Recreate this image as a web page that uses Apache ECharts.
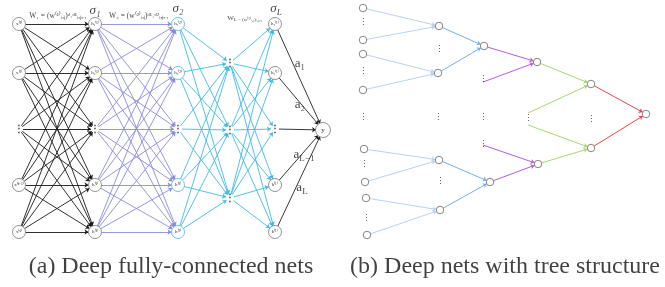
<!DOCTYPE html>
<html>
<head>
<meta charset="utf-8">
<script src="https://cdn.jsdelivr.net/npm/echarts@6/dist/echarts.min.js"></script>
<style>
  html, body { margin: 0; padding: 0; background: #fff; }
  #main { width: 665px; height: 287px; }
</style>
</head>
<body>
<div id="main"></div>
<script>
// ---- panel (a): fully-connected net ----
const aLayerX = [19, 95, 178, 275];          // input, h(1), h(2), h(L)
const aLayerY = [24, 73, 129, 185, 232];     // row 2 is the "⋮" row
const aMidX = 230;
const aMidY = [63, 130, 198];
const aOut = [323, 130];
const inputLabels = ['x⁽¹⁾', 'x⁽²⁾', '', 'x⁽ᵈ⁻¹⁾', 'x⁽ᵈ⁾'];
const h1Labels = ['h₁⁽¹⁾', 'h₂⁽¹⁾', '', 'h⁽¹⁾', 'h⁽¹⁾'];
const h2Labels = ['h₁⁽²⁾', 'h₂⁽²⁾', '', 'h⁽²⁾', 'h⁽²⁾'];
const hLLabels = ['h₁⁽ᴸ⁾', 'h₂⁽ᴸ⁾', '', 'h⁽ᴸ⁾', 'h⁽ᴸ⁾'];
const layerEdgeColors = ['#1a1a1a', '#8a8ade', '#3cbce4', '#3cbce4', '#222'];

// ---- panel (b): tree ----
const treeNodes = [
  [363, 8], [363, 40], [363, 54], [363, 90], [364, 149], [365, 182], [366, 198], [367, 235], // leaves 0-7
  [439, 26], [438, 73], [439, 160], [440, 210],   // level 1: 8-11
  [484, 46], [490, 182],                          // level 2: 12-13
  [537, 62], [538, 164],                          // level 3: 14-15
  [591, 84], [591, 148],                          // level 4: 16-17
  [646, 114]                                      // root: 18
];
const treeDotStarts = [[483, 82], [483, 145], [528, 113], [528, 125]];  // edges coming out of ⋮
const treeDots = [
  [363, 23], [363, 72], [363, 118], [364, 165], [366, 219],
  [439, 50], [438, 118], [440, 182],
  [483, 80], [483, 118], [483, 145],
  [528, 119], [591, 120]
];
const treeEdgeGroups = [
  { color: '#b9d3ef', edges: [[0, 8], [1, 8], [2, 9], [3, 9], [4, 10], [5, 10], [6, 11], [7, 11]] },
  { color: '#78aee6', edges: [[8, 12], [9, 12], [10, 13], [11, 13]] },
  { color: '#b25de2', edges: [[12, 14], ['d0', 14], ['d1', 15], [13, 15]] },
  { color: '#a9d872', edges: [[14, 16], ['d2', 16], ['d3', 17], [15, 17]] },
  { color: '#e24a4a', edges: [[16, 18], [17, 18]] }
];

// ---- text ----
const notes = [
  { text: 'σ₁', x: 95, y: 11, size: 13, italic: true },
  { text: 'σ₂', x: 178, y: 9, size: 13, italic: true },
  { text: 'σ_L', x: 276, y: 9, size: 13, italic: true },
  { text: 'W₁ = (w⁽¹⁾ᵢ,ⱼ)ᵈ˒ᵈ¹ᵢ,ⱼ₌₁', x: 58, y: 16, size: 7.5 },
  { text: 'W₂ = (w⁽²⁾ᵢ,ⱼ)ᵈ¹˒ᵈ²ᵢ,ⱼ₌₁', x: 139, y: 16, size: 7.5 },
  { text: 'W_L = (w⁽ᴸ⁾ᵢ,ⱼ)ᵢ,ⱼ₌₁', x: 245, y: 18, size: 7 },
  { text: 'a₁', x: 300, y: 64, size: 13 },
  { text: 'a₂', x: 300, y: 105, size: 13 },
  { text: 'a_L−1', x: 304, y: 155, size: 13 },
  { text: 'a_L', x: 302, y: 188, size: 13 }
];
const captions = [
  { text: '(a) Deep fully-connected nets', x: 171, y: 267 },
  { text: '(b) Deep nets with tree structure', x: 505, y: 267 }
];

function trim(p, q, r0, r1) {
  const dx = q[0] - p[0], dy = q[1] - p[1], len = Math.hypot(dx, dy);
  return [[p[0] + dx * r0 / len, p[1] + dy * r0 / len], [q[0] - dx * r1 / len, q[1] - dy * r1 / len]];
}

const R = 6.5;     // node radius in panel (a)
const rb = 3.6;    // node radius in panel (b)

// build the columns of panel (a)
const cols = [
  aLayerY.map(y => ({ p: [aLayerX[0], y], dot: false })),
  aLayerY.map(y => ({ p: [aLayerX[1], y], dot: false })),
  aLayerY.map(y => ({ p: [aLayerX[2], y], dot: false })),
  aMidY.map(y => ({ p: [aMidX, y], dot: true })),
  aLayerY.map(y => ({ p: [aLayerX[3], y], dot: false })),
  [{ p: aOut, dot: false }]
];
cols.forEach(c => c.forEach((n, i) => { if (c.length === 5 && i === 2) n.dot = true; }));

const lineSeries = [];
for (let k = 0; k < cols.length - 1; k++) {
  const data = [];
  cols[k].forEach(a => cols[k + 1].forEach(b => {
    const r0 = a.dot ? 4 : R;
    const r1 = b.dot ? 4 : (k + 1 === cols.length - 1 ? 7 : R);
    data.push({ coords: trim(a.p, b.p, r0, r1) });
  }));
  lineSeries.push({
    type: 'lines', coordinateSystem: 'cartesian2d', z: 1,
    symbol: ['none', 'arrow'], symbolSize: 4,
    lineStyle: { color: layerEdgeColors[k], width: 0.9, opacity: 1 },
    data: data, silent: true
  });
}

treeEdgeGroups.forEach(g => {
  const data = g.edges.map(([s, t]) => {
    const isDot = typeof s === 'string';
    const p = isDot ? treeDotStarts[+s.slice(1)] : treeNodes[s];
    return { coords: trim(p, treeNodes[t], isDot ? 0 : rb, rb) };
  });
  lineSeries.push({
    type: 'lines', coordinateSystem: 'cartesian2d', z: 1,
    symbol: ['none', 'arrow'], symbolSize: 4,
    lineStyle: { color: g.color, width: 1, opacity: 1 },
    data: data, silent: true
  });
});

const labelSets = [inputLabels, h1Labels, h2Labels, hLLabels];
const aNodes = [];
const aDots = [];
aLayerX.forEach((x, li) => {
  aLayerY.forEach((y, i) => {
    if (i === 2) { aDots.push([x, y]); return; }
    aNodes.push({ value: [x, y], name: labelSets[li][i], itemStyle: { borderColor: li === 2 ? '#3cbce4' : '#777' } });
  });
});
aMidY.forEach(y => aDots.push([aMidX, y]));
aNodes.push({ value: aOut, name: 'y', symbolSize: 15, label: { fontSize: 7 } });

function textPoint(n, size, family, style) {
  let t = n.text;
  if (t.indexOf('_') >= 0) {
    const parts = t.split('_');
    t = '{m|' + parts[0] + '}{s|' + parts[1] + '}';
  }
  return {
    value: [n.x, n.y],
    label: {
      show: true, position: 'inside', formatter: t,
      fontSize: size, fontFamily: family, fontStyle: style || 'normal', color: '#111',
      rich: {
        m: { fontSize: size, fontFamily: family, fontStyle: style || 'normal', color: '#111' },
        s: { fontSize: Math.round(size * 0.7), fontFamily: family, color: '#111', padding: [Math.round(size * 0.6), 0, 0, 0] }
      }
    }
  };
}

const option = {
  animation: false,
  backgroundColor: '#fff',
  grid: { left: 0, right: 0, top: 0, bottom: 0 },
  xAxis: { type: 'value', min: 0, max: 665, show: false },
  yAxis: { type: 'value', min: 0, max: 287, inverse: true, show: false },
  series: lineSeries.concat([
    {
      type: 'scatter', z: 3, symbol: 'circle', symbolSize: 13, silent: true,
      itemStyle: { color: '#fff', borderColor: '#777', borderWidth: 0.8, opacity: 1 },
      label: { show: true, position: 'inside', formatter: p => p.name, fontSize: 5, color: '#333', fontFamily: 'Liberation Serif' },
      data: aNodes
    },
    {
      type: 'scatter', z: 3, symbol: 'circle', symbolSize: 7.5, silent: true,
      itemStyle: { color: '#fff', borderColor: '#777', borderWidth: 0.9, opacity: 1 },
      data: treeNodes
    },
    {
      type: 'scatter', z: 4, symbolSize: 1, silent: true,
      itemStyle: { color: 'transparent' },
      label: { show: true, position: 'inside', formatter: '⋮', fontSize: 10, fontWeight: 'bold', color: '#111' },
      data: aDots
    },
    {
      type: 'scatter', z: 4, symbolSize: 1, silent: true,
      itemStyle: { color: 'transparent' },
      label: { show: true, position: 'inside', formatter: '⋮', fontSize: 9, color: '#333' },
      data: treeDots
    },
    {
      type: 'scatter', z: 5, symbolSize: 1, silent: true,
      itemStyle: { color: 'transparent' },
      data: notes.map(n => textPoint(n, n.size, 'Liberation Serif', n.italic ? 'italic' : 'normal'))
    },
    {
      type: 'scatter', z: 5, symbolSize: 1, silent: true,
      itemStyle: { color: 'transparent' },
      data: captions.map(n => textPoint(n, 24, 'Liberation Serif'))
    }
  ])
};

const chart = echarts.init(document.getElementById('main'), null, { renderer: 'canvas' });
chart.setOption(option);
</script>
</body>
</html>
